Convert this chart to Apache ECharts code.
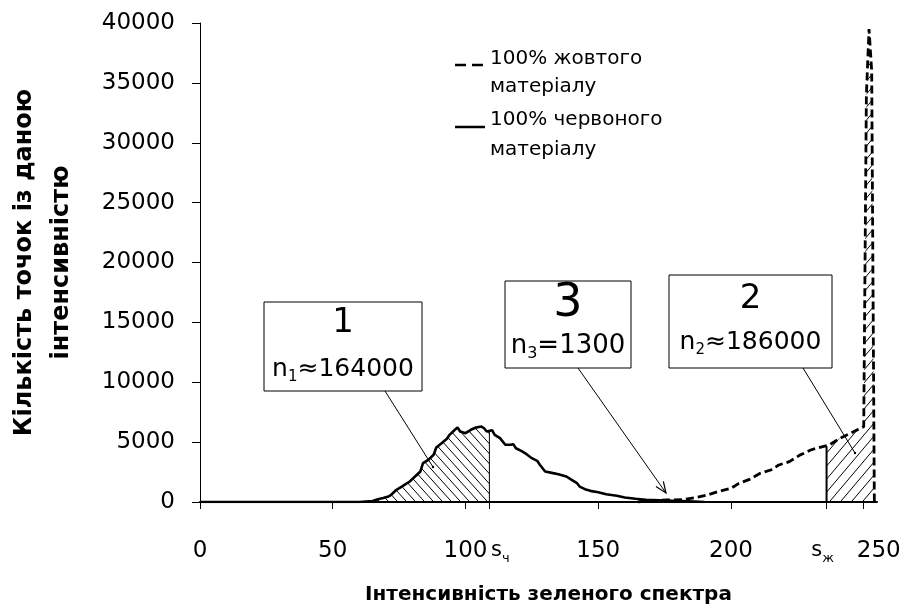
<!DOCTYPE html>
<html>
<head>
<meta charset="utf-8">
<script src="https://cdn.jsdelivr.net/npm/echarts@6/dist/echarts.min.js"></script>
<style>
  html, body { margin: 0; padding: 0; background: #fff; }
  #chart { width: 912px; height: 614px; }
</style>
</head>
<body>
<div id="chart"></div>
<script>
// Number of pixels per green-channel intensity, for the two pure materials.

// 100% red material (solid curve)
const RED_X = [0, 60, 65, 67, 69, 71, 72, 74, 76, 77, 79, 81, 83, 84, 86, 88, 89, 91, 93, 94,
  96, 97, 98, 100, 102, 104, 106, 107, 108, 110, 111, 113, 115, 117, 118, 119, 121, 123, 125,
  127, 128, 130, 133, 135, 138, 140, 142, 143, 145, 147, 150, 153, 157, 160, 164, 168, 173,
  178, 184, 190];
const RED_Y = [0, 0, 80, 230, 330, 460, 600, 1020, 1290, 1430, 1710, 2130, 2550, 3240, 3520,
  3940, 4550, 4910, 5280, 5610, 6030, 6220, 5890, 5750, 6030, 6220, 6300, 6160, 5890, 6000,
  5610, 5330, 4780, 4780, 4830, 4490, 4270, 3990, 3660, 3440, 3110, 2550, 2410, 2320, 2130,
  1850, 1570, 1290, 1070, 930, 820, 650, 520, 380, 270, 180, 150, 110, 60, 0];

// 100% yellow material (dashed curve)
const YELLOW_X = [165, 168, 172, 176, 182, 187, 191, 195, 200, 203, 207, 211, 215, 218, 222,
  226, 230, 233, 237, 241, 245, 248, 250, 251, 252, 253, 254];
const YELLOW_Y = [0, 90, 140, 170, 200, 390, 580, 860, 1140, 1560, 1890, 2400, 2670, 3090,
  3370, 3920, 4340, 4540, 4760, 5320, 5740, 6070, 6290, 34000, 39500, 36000, 0];

// Region 3: where both histograms overlap
const OVERLAP_X = [165, 168, 173, 178, 184, 187];
const OVERLAP_Y = [0, 90, 140, 110, 60, 0];

// Threshold intensities and curve heights at them
const S_CH = 109, S_CH_TOP = 5950;
const S_ZH = 236, S_ZH_TOP = 4650;

// Axis scales
const X_MIN = 0, X_MAX = 255;
const Y_MIN = 0, Y_MAX = 40000, Y_STEP = 5000;
const X_TICKS = [0, 50, 100, S_CH, 150, 200, S_ZH, 250];
const X_NUM_LABELS = [0, 50, 100, 150, 200, 250];
const X_THRESHOLDS = [S_CH, S_ZH];

// Texts
const X_TITLE = 'Інтенсивність зеленого спектра';
const Y_TITLE = 'Кількість точок із даною\nінтенсивністю';
const LEGEND_YELLOW = ['100% жовтого', 'матеріалу'];
const LEGEND_RED = ['100% червоного', 'матеріалу'];
const BOX1 = { title: '1', sub: '1', rel: '≈', value: '164000' };
const BOX2 = { title: '2', sub: '2', rel: '≈', value: '186000' };
const BOX3 = { title: '3', sub: '3', rel: '=', value: '1300' };

const FONT = 'DejaVu Sans';
const TICK_FONT = 23;

function pairs(xs, ys) { return xs.map((x, i) => [x, ys[i]]); }

// Diagonal hatch tile; dir = 1 draws "\", dir = -1 draws "/"
function hatchTile(w, h, dir) {
  const c = document.createElement('canvas');
  c.width = w; c.height = h;
  const g = c.getContext('2d');
  g.strokeStyle = '#000';
  g.lineWidth = 1;
  g.beginPath();
  for (let k = -1; k <= 1; k++) {
    if (dir > 0) { g.moveTo(k * w, 0); g.lineTo(k * w + w, h); }
    else { g.moveTo(k * w, h); g.lineTo(k * w + w, 0); }
  }
  g.stroke();
  return c;
}

const redData = pairs(RED_X, RED_Y);
const yellowData = pairs(YELLOW_X, YELLOW_Y);
const overlapData = pairs(OVERLAP_X, OVERLAP_Y);
const region1 = redData.filter(p => p[0] < S_CH).concat([[S_CH, S_CH_TOP]]);
const region2 = [[S_ZH, S_ZH_TOP]].concat(yellowData.filter(p => p[0] > S_ZH));

function boxLabel(b, x, y, w, h, titleSize, titleY, lineY, lineSize) {
  return [
    { type: 'rect', shape: { x: x, y: y, width: w, height: h },
      style: { fill: '#fff', stroke: '#000', lineWidth: 1 }, z: 10 },
    { type: 'text', x: x + w / 2, y: titleY, z: 11,
      style: { text: b.title, font: titleSize + 'px "' + FONT + '"', fill: '#000',
        align: 'center', verticalAlign: 'middle' } },
    { type: 'text', x: x + w / 2, y: lineY, z: 11,
      style: {
        text: '{n|n}{s|' + b.sub + '}{n|' + b.rel + b.value + '}',
        align: 'center', verticalAlign: 'middle',
        rich: {
          n: { fontFamily: FONT, fontSize: lineSize, fill: '#000', lineHeight: lineSize + 6 },
          s: { fontFamily: FONT, fontSize: Math.round(lineSize * 0.6), fill: '#000',
               lineHeight: lineSize + 6, verticalAlign: 'bottom', padding: [8, 0, 0, 0] }
        }
      } }
  ];
}

function leader(x1, y1, x2, y2) {
  return { type: 'line', z: 12, shape: { x1, y1, x2, y2 },
    style: { stroke: '#000', lineWidth: 1 } };
}

function arrowHead(x1, y1, x2, y2, len, half) {
  const dx = x2 - x1, dy = y2 - y1, L = Math.hypot(dx, dy);
  const ux = dx / L, uy = dy / L;
  const bx = x2 - ux * len, by = y2 - uy * len;
  return { type: 'polyline', z: 12,
    shape: { points: [[bx - uy * half, by + ux * half], [x2, y2], [bx + uy * half, by - ux * half]] },
    style: { stroke: '#000', lineWidth: 1.2, fill: null } };
}

const legendText = (t, x, y) => ({ type: 'text', x, y, z: 10,
  style: { text: t, font: '20px "' + FONT + '"', fill: '#000', verticalAlign: 'middle' } });

const graphics = [
  // legend
  { type: 'line', z: 10, shape: { x1: 455, y1: 65, x2: 485, y2: 65 },
    style: { stroke: '#000', lineWidth: 2.5, lineDash: [11, 6] } },
  legendText(LEGEND_YELLOW[0], 490, 59),
  legendText(LEGEND_YELLOW[1], 490, 87),
  { type: 'line', z: 10, shape: { x1: 455, y1: 127, x2: 485, y2: 127 },
    style: { stroke: '#000', lineWidth: 2.5 } },
  legendText(LEGEND_RED[0], 490, 120),
  legendText(LEGEND_RED[1], 490, 150),
  // annotation boxes
  ...boxLabel(BOX1, 264, 302, 158, 89, 34, 323, 369, 25),
  ...boxLabel(BOX3, 505, 281, 126, 87, 46, 304, 346, 26),
  ...boxLabel(BOX2, 669, 275, 163, 93, 34, 299, 342, 25),
  // leader lines
  leader(385, 391, 433, 467),
  { type: 'circle', z: 12, shape: { cx: 433, cy: 467, r: 1.2 }, style: { fill: '#000' } },
  leader(578, 368, 666, 493),
  arrowHead(578, 368, 666, 493, 11, 4.5),
  leader(803, 368, 855, 453),
  { type: 'circle', z: 12, shape: { cx: 855, cy: 453, r: 1.2 }, style: { fill: '#000' } }
];

const chart = echarts.init(document.getElementById('chart'), null, { renderer: 'canvas' });

const labelRich = {
  num: { fontFamily: FONT, fontSize: TICK_FONT, color: '#000', lineHeight: 28 },
  last: { fontFamily: FONT, fontSize: TICK_FONT, color: '#000', lineHeight: 28, padding: [0, 0, 0, 30] },
  sch: { fontFamily: FONT, fontSize: 21, color: '#000', lineHeight: 28, padding: [0, 0, 0, 22] },
  szh: { fontFamily: FONT, fontSize: 21, color: '#000', lineHeight: 28 },
  sub: { fontFamily: FONT, fontSize: 13, color: '#000', lineHeight: 28,
         verticalAlign: 'bottom', padding: [10, 0, 0, 0] },
  subzh: { fontFamily: FONT, fontSize: 13, color: '#000', lineHeight: 28,
         verticalAlign: 'bottom', padding: [10, 8, 0, 0] }
};

chart.setOption({
  animation: false,
  backgroundColor: '#fff',
  grid: { left: 200, right: 35, top: 23, bottom: 112, containLabel: false, outerBoundsMode: 'none' },
  xAxis: [
    {
      type: 'value', min: X_MIN, max: X_MAX,
      name: X_TITLE, nameLocation: 'middle', nameGap: 83,
      nameTextStyle: { fontFamily: FONT, fontWeight: 'bold', fontSize: 20, color: '#000',
                       padding: [0, 0, 0, 20] },
      axisLine: { show: true, onZero: false, lineStyle: { color: '#000', width: 2 } },
      axisTick: { show: true, customValues: X_TICKS, length: 7, lineStyle: { color: '#000', width: 1 } },
      axisLabel: {
        customValues: X_NUM_LABELS, margin: 35, hideOverlap: false,
        formatter: v => (v === 250 ? '{last|' + v + '}' : '{num|' + v + '}'),
        rich: labelRich
      },
      splitLine: { show: false }
    },
    {
      // threshold names s_ч and s_ж under the axis
      type: 'value', min: X_MIN, max: X_MAX, position: 'bottom',
      axisLine: { show: false }, axisTick: { show: false }, splitLine: { show: false },
      axisLabel: {
        customValues: X_THRESHOLDS, margin: 35, hideOverlap: false,
        formatter: v => (v === S_CH ? '{sch|s}{sub|ч}' : '{szh|s}{subzh|ж}'),
        rich: labelRich
      }
    }
  ],
  yAxis: {
    type: 'value', min: Y_MIN, max: Y_MAX, interval: Y_STEP,
    name: Y_TITLE, nameLocation: 'middle', nameGap: 120, nameRotate: 90,
    nameTextStyle: { fontFamily: FONT, fontWeight: 'bold', fontSize: 24, color: '#000', lineHeight: 37 },
    axisLine: { show: true, lineStyle: { color: '#000', width: 1 } },
    axisTick: { show: true, length: 8, lineStyle: { color: '#000', width: 1 } },
    axisLabel: { margin: 25, color: '#000', fontFamily: FONT, fontSize: TICK_FONT,
      formatter: v => String(v) },
    splitLine: { show: false }
  },
  series: [
    { name: 'region1', type: 'line', data: region1, showSymbol: false, silent: true, z: 1,
      lineStyle: { width: 0 },
      areaStyle: { color: { image: hatchTile(9, 10, 1), repeat: 'repeat' }, opacity: 1 } },
    { name: 'region2', type: 'line', data: region2, showSymbol: false, silent: true, z: 1,
      lineStyle: { width: 0 },
      areaStyle: { color: { image: hatchTile(11, 13, -1), repeat: 'repeat' }, opacity: 1 } },
    { name: 'region3', type: 'line', data: overlapData, showSymbol: false, silent: true, z: 2,
      lineStyle: { width: 0 }, areaStyle: { color: '#000', opacity: 1 } },
    { name: '100% червоного матеріалу', type: 'line', data: redData, showSymbol: false, z: 4,
      lineStyle: { color: '#000', width: 2.6 } },
    { name: '100% жовтого матеріалу', type: 'line', data: yellowData, showSymbol: false, z: 4,
      lineStyle: { color: '#000', width: 2.8, type: [8, 4] } },
    { name: 's_ch', type: 'line', data: [[S_CH, 0], [S_CH, S_CH_TOP]], showSymbol: false, z: 3,
      silent: true, lineStyle: { color: '#000', width: 1 } },
    { name: 's_zh', type: 'line', data: [[S_ZH, 0], [S_ZH, S_ZH_TOP]], showSymbol: false, z: 3,
      silent: true, lineStyle: { color: '#000', width: 2 } }
  ],
  graphic: graphics
});
</script>
</body>
</html>
